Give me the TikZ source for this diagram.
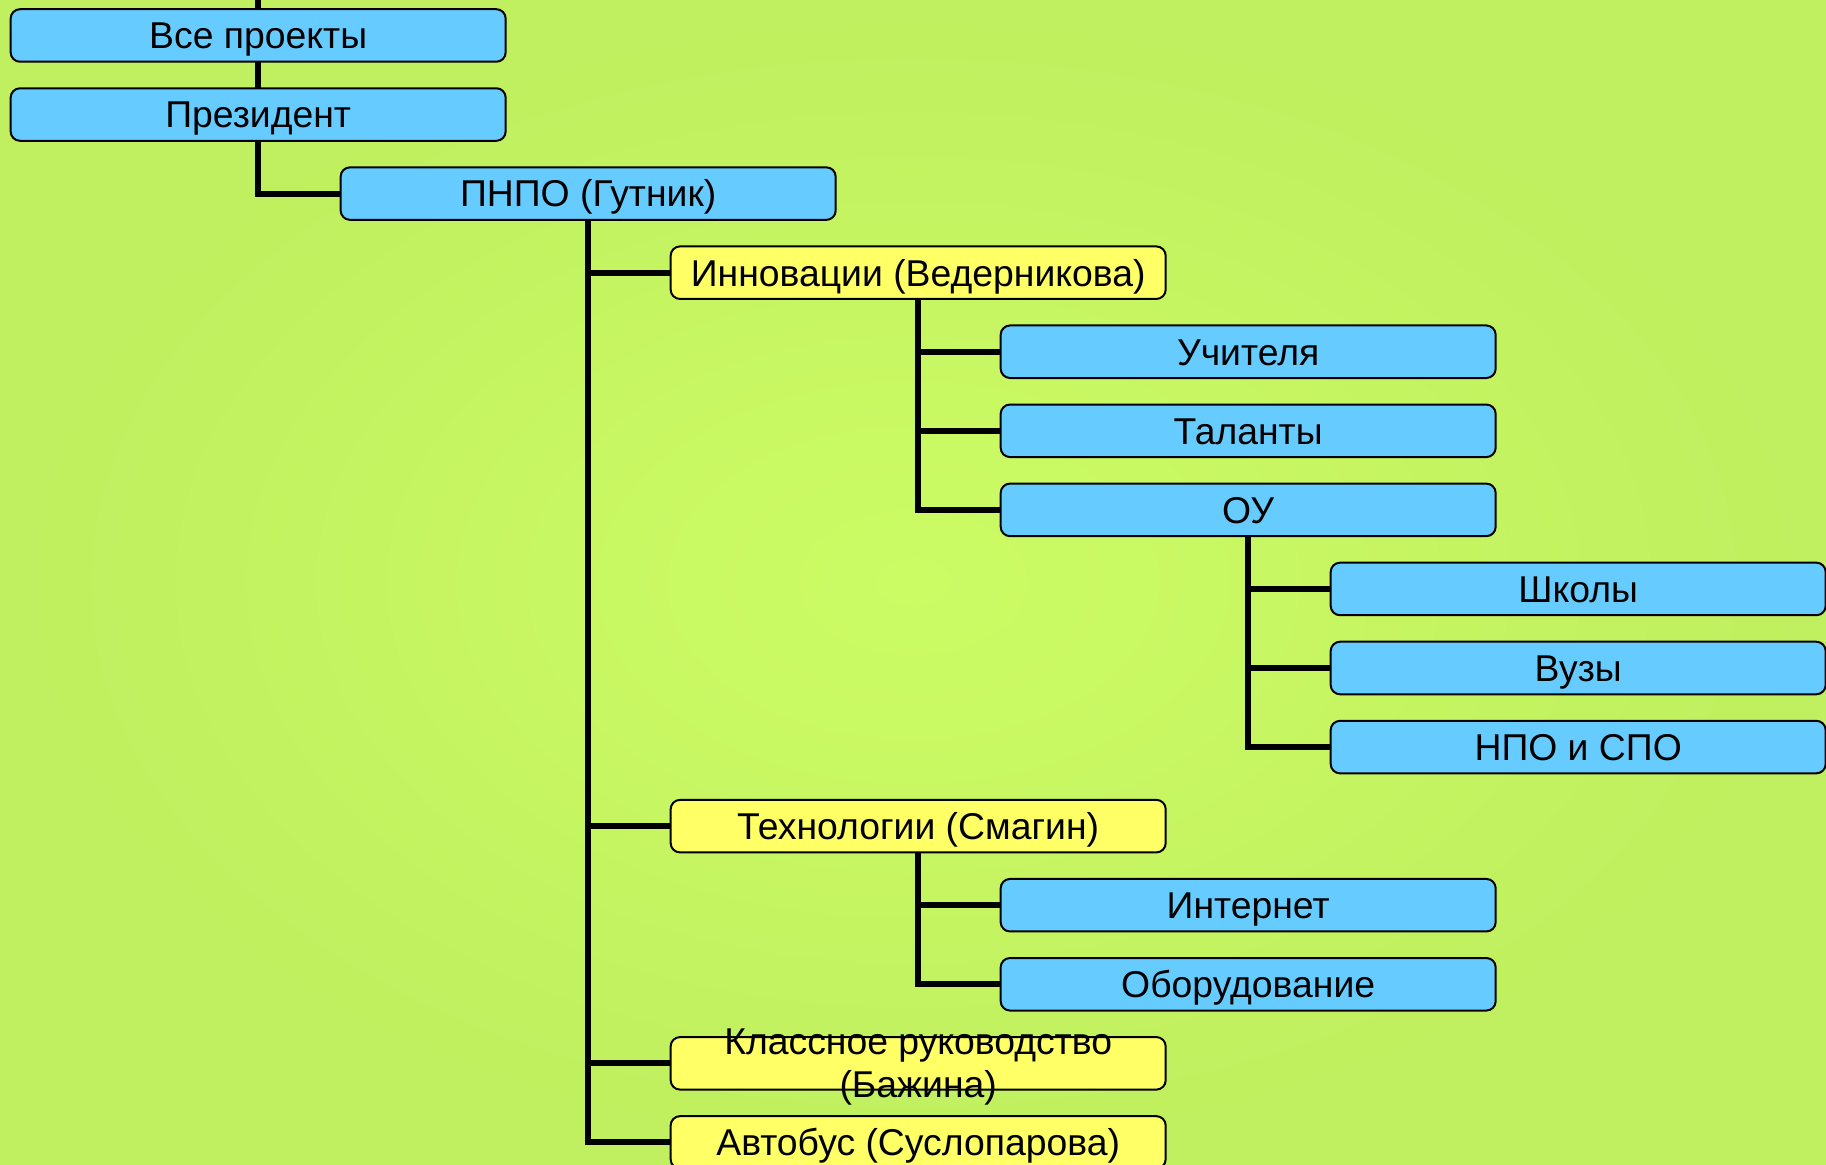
\documentclass[tikz,border=0pt]{standalone}
\usepackage{fontspec}
\setmainfont{Liberation Sans}
\usepackage{tikz}
\usetikzlibrary{positioning}

\definecolor{boxblue}{HTML}{66CCFF}
\definecolor{boxyellow}{HTML}{FFFF66}
\definecolor{bginner}{HTML}{CCFC64}
\definecolor{bgouter}{HTML}{C0EF5F}

\begin{document}
\begin{tikzpicture}[every node/.style={font=\fontsize{28}{32}\selectfont}, node distance=19.9pt]
% styles
\tikzstyle{bluebox}=[rectangle,draw,fill=boxblue,line width=1.5pt,rounded corners=7pt,minimum width=371.25pt,minimum height=39.4pt,inner sep=0pt,outer sep=0pt,text height=20pt,text depth=0pt]
\tikzstyle{yellowbox}=[bluebox,fill=boxyellow]
\tikzstyle{link}=[line width=4.6pt]

% background
\shade[inner color=bginner,outer color=bgouter] (0,0) rectangle (1369.5pt,-873pt);
\useasboundingbox (0,0) rectangle (1369.5pt,-873pt);

% level 0
\node[bluebox,anchor=north west] (all) at (8pt,-6.9pt) {Все проекты};
\node[bluebox,below=of all] (pres) {Президент};
\coordinate (topend) at (all.north |- 0,0);

% level 1
\node[bluebox,below=of pres,xshift=247.5pt] (pnpo) {ПНПО (Гутник)};

% innovations
\node[yellowbox,below=of pnpo,xshift=247.5pt] (innov) {Инновации (Ведерникова)};
\node[bluebox,below=of innov,xshift=247.5pt] (teach) {Учителя};
\node[bluebox,below=of teach] (talent) {Таланты};
\node[bluebox,below=of talent] (ou) {ОУ};
\node[bluebox,below=of ou,xshift=247.5pt] (school) {Школы};
\node[bluebox,below=of school] (univ) {Вузы};
\node[bluebox,below=of univ] (npo) {НПО и СПО};

% technologies
\node[yellowbox,below=of npo,xshift=-495pt] (tech) {Технологии (Смагин)};
\node[bluebox,below=of tech,xshift=247.5pt] (inet) {Интернет};
\node[bluebox,below=of inet] (equip) {Оборудование};

% the rest
\node[yellowbox,below=of equip,xshift=-247.5pt] (class) {\raisebox{-15.4pt}{\begin{tabular}[b]{@{}c@{}}Классное руководство\\(Бажина)\end{tabular}}};
\node[yellowbox,below=of class] (bus) {Автобус (Суслопарова)};

% links
\draw[link] (all.north) -- (topend);
\draw[link] (all.south) -- (pres.north);
\draw[link] (pres.south) |- (pnpo.west);

\foreach \c in {innov,tech,class,bus}
  \draw[link] (pnpo.south) |- (\c.west);

\foreach \c in {teach,talent,ou}
  \draw[link] (innov.south) |- (\c.west);

\foreach \c in {school,univ,npo}
  \draw[link] (ou.south) |- (\c.west);

\foreach \c in {inet,equip}
  \draw[link] (tech.south) |- (\c.west);

\end{tikzpicture}
\end{document}
